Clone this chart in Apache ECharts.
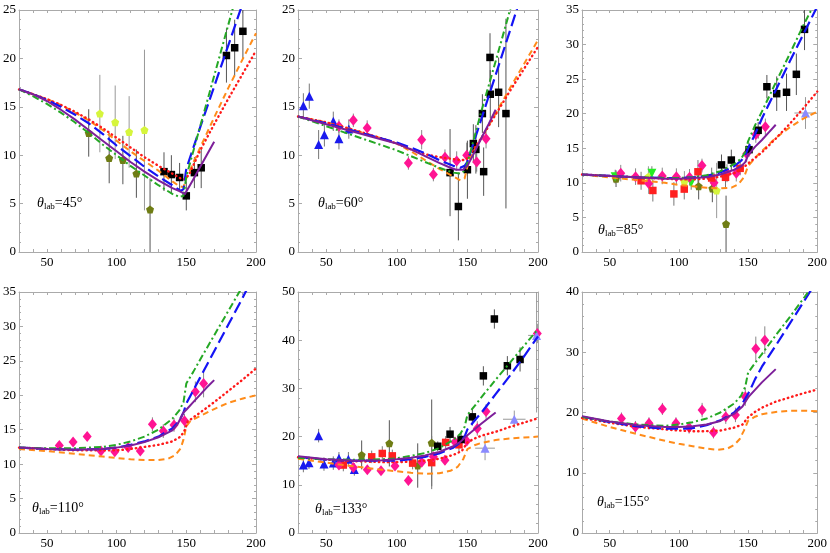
<!DOCTYPE html>
<html><head><meta charset="utf-8">
<script src="https://cdn.jsdelivr.net/npm/echarts@6/dist/echarts.min.js"></script>
<style>html,body{margin:0;padding:0;background:#fff}#c{width:830px;height:553px}</style>
</head><body><div id="c"></div>
<script>
// ---------- tick labels ----------
const xTickLabels = [50, 100, 150, 200];
const panelAngles = ['45°', '60°', '85°', '110°', '133°', '155°'];
const yMaxes = [25, 25, 35, 35, 50, 40];
const ySteps = [5, 5, 5, 5, 10, 10];

// ---------- panel 1 (45°) ----------
const c1Green = [[30,16.8],[40,16.1],[50,15.3],[60,14.4],[70,13.4],[80,12.3],[90,11.1],[100,10.0],[110,8.9],[120,7.9],[130,6.9],[140,6.0],[145,5.7],[148,5.8],[150,7.8],[160,13.0],[170,18.2],[180,23.4],[184,25.5]];
const c1Blue = [[30,16.8],[40,16.3],[50,15.7],[60,15.0],[70,14.2],[80,13.3],[90,12.2],[100,11.0],[110,9.9],[120,8.8],[130,7.8],[140,6.9],[146,6.3],[148,6.5],[150,8.6],[160,12.9],[170,17.1],[180,21.3],[190,25.5]];
const c1Orange = [[30,16.8],[40,16.3],[50,15.8],[60,15.2],[70,14.4],[80,13.6],[90,12.6],[100,11.5],[110,10.4],[120,9.4],[130,8.4],[140,7.3],[145,6.8],[148,6.7],[150,7.6],[160,10.8],[170,13.9],[180,16.9],[190,19.8],[200,22.6]];
const c1Red = [[30,16.8],[40,16.3],[50,15.8],[60,15.2],[70,14.5],[80,13.7],[90,12.8],[100,11.8],[110,10.8],[120,9.8],[130,8.9],[140,8.1],[146,7.6],[149,7.5],[152,8.0],[160,10.5],[170,13.2],[180,15.8],[190,18.3],[200,20.8]];
const c1Purple = [[30,16.8],[40,16.3],[50,15.6],[60,14.7],[70,13.7],[80,12.6],[90,11.5],[100,10.4],[110,9.3],[120,8.3],[130,7.4],[140,6.6],[145,6.3],[149,6.0],[155,7.5],[160,8.8],[165,10.1],[170,11.4]];
const p1Olive = [[80,12.3,2.45],[94.7,9.7,2.6],[104.5,9.5,2.5],[114.2,8.1,2.5],[124,4.4,4.4,3.2]];
const p1Yellow = [[88,14.3,4],[99,13.4,3.8],[109,12.4,3.7],[120,12.6,8.3]];
const p1Black = [[134,8.3,2],[139.3,8.0,2],[145.2,7.7,1.5],[150,5.8,1.5],[155.8,8.2,1.6],[160.7,8.7,2.1],[178.8,20.3,2.8],[184.7,21.1,2.9],[190.6,22.8,2.8]];

// ---------- panel 2 (60°) ----------
const c2Green = [[30,14.0],[50,13.0],[70,12.0],[90,11.0],[100,10.5],[110,9.9],[120,9.3],[130,8.7],[140,8.2],[145,8.1],[148,8.4],[150,9.2],[160,14.6],[170,19.7],[180,24.9],[182,26]];
const c2Blue = [[30,14.0],[50,13.3],[70,12.5],[90,11.7],[100,11.3],[110,10.8],[120,10.2],[130,9.5],[140,8.9],[145,8.7],[148,8.9],[150,9.3],[160,13.8],[170,18.3],[180,22.8],[186,25.5]];
const c2Orange = [[30,14.0],[50,13.4],[70,12.6],[90,11.7],[100,11.2],[110,10.4],[120,9.5],[130,8.6],[140,7.8],[145,7.4],[148,7.6],[150,8.8],[152,9.8],[160,11.8],[170,14.3],[180,16.9],[190,19.4],[200,21.9]];
const c2Red = [[30,14.0],[50,13.4],[70,12.6],[90,11.7],[100,11.2],[110,10.6],[120,10.1],[130,9.8],[140,9.6],[145,9.5],[148,9.5],[150,9.7],[160,11.8],[170,14.2],[180,16.6],[190,18.9],[200,21.2]];
const c2Purple = [[30,14.0],[50,13.2],[70,12.4],[90,11.6],[100,11.2],[110,10.6],[120,9.9],[130,9.2],[138,8.7],[142,8.5],[147,8.5],[150,8.9],[155,10.3],[160,11.8],[165,13.2],[170,14.7]];
const p2Tri = [[33.8,15.1,1.3],[38,16.1,1.3],[44.6,11.1,1.5],[48.7,12.1,1.2],[55,13.5,1.0],[59,11.7,1.1],[66,12.7,1.0]];
const p2Pink = [[59,13.0,0.7],[69.2,13.6,0.7],[79,12.8,0.8],[108.2,9.2,0.7],[117.6,11.6,1.0],[125.9,8.0,0.7],[134.1,9.8,0.8],[142.4,9.4,1.0],[149.5,10.0,1.3],[156.6,9.3,1.0],[163.2,11.7,1.0]];
const p2Black = [[137.7,8.2,4.5],[143.6,4.7,3.5],[150,8.5,3],[154.2,11.2,2],[156,10.6,2.5],[160.6,14.3,2],[161.5,8.3,2.5],[166,20.1,2.5],[166.2,16.3,2.5],[172.1,16.5,3.6],[177.3,14.3,9.8]];

// ---------- panel 3 (85°) ----------
const c3Green = [[30,11.2],[50,11.0],[70,10.8],[90,10.7],[100,10.7],[110,10.8],[120,11.1],[130,11.7],[140,12.7],[145,13.5],[148,14.5],[150,16.0],[155,18.3],[160,20.3],[170,24.5],[180,28.6],[190,32.8],[197,35.5]];
const c3Blue = [[30,11.2],[50,11.0],[70,10.8],[90,10.7],[100,10.7],[110,10.8],[120,11.0],[130,11.5],[140,12.4],[145,13.2],[148,14.0],[150,15.0],[155,17.0],[160,19.3],[170,23.4],[180,27.5],[190,31.5],[200,35.5]];
const c3Orange = [[30,11.2],[50,10.8],[70,10.4],[90,10.0],[100,9.7],[110,9.5],[120,9.3],[130,9.2],[138,9.3],[143,9.8],[147,10.8],[150,12.4],[155,13.6],[160,14.6],[170,16.5],[180,18.0],[190,19.3],[200,20.3]];
const c3Red = [[30,11.2],[50,11.0],[70,10.8],[90,10.6],[100,10.5],[110,10.5],[120,10.6],[130,10.9],[140,11.4],[145,11.9],[150,12.8],[155,13.6],[160,14.4],[170,16.4],[180,18.5],[190,20.8],[200,23.2]];
const c3Purple = [[30,11.2],[50,11.0],[70,10.8],[90,10.6],[100,10.6],[110,10.7],[120,10.8],[130,11.2],[140,11.9],[145,12.4],[148,13.0],[150,14.0],[155,15.2],[160,16.2],[165,17.3],[170,18.4]];
const p3Olive = [[54.6,10.6,1.2],[114.3,9.5,1.9],[124.2,9.2,2],[134.1,4.05,4.1]];
const p3Yellow = [[78,10.9,1.5],[104,10.2,1.5],[127.3,8.9,4]];
const p3Green = [[54,10.9,1],[80.5,11.4,1],[108.9,10.0,1]];
const p3Pink = [[58,11.4,1.2],[68.7,10.9,1.2],[78.2,9.9,1.5],[88,11.0,1.2],[98.2,10.9,1.2],[107.7,10.8,1.2],[116.7,12.5,1],[125.4,10.0,1.5],[134.8,11.4,1.3],[141.5,11.4,1.2],[149,14.2,1.2],[155.6,17.0,1.2],[162.5,18.1,1.2]];
const p3Red = [[72.7,10.3,1.3],[81.2,8.9,1.6],[96.4,8.4,1.7],[103.9,9.1,1.5],[113.8,11.6,1.7],[123.7,10.7,1.5],[133.7,10.8,1.5],[144.3,12.1,1]];
const p3Black = [[130.8,12.6,1.5],[137.9,13.3,1.5],[150.7,14.8,1],[157.3,17.6,1.2],[163.6,23.9,1.7],[170.7,22.9,2.5],[177.8,23.1,2.7],[184.9,25.7,3],[190.8,32.2,3]];
const p3LTri = [[191.5,20.1,2.3,2.3,8]];

// ---------- panel 4 (110°) ----------
const c4Green = [[30,12.4],[50,12.3],[70,12.3],[90,12.5],[100,12.8],[110,13.3],[120,14.0],[130,15.0],[140,16.6],[145,17.8],[148,19.0],[150,21.7],[155,23.4],[160,25.2],[170,28.7],[180,32.2],[190,35.7]];
const c4Blue = [[30,12.4],[50,12.2],[70,12.1],[90,12.2],[100,12.4],[110,12.8],[120,13.3],[130,14.0],[140,15.2],[145,16.3],[148,17.5],[150,18.8],[155,20.7],[160,22.6],[170,26.4],[180,30.2],[190,34.0],[194,35.6]];
const c4Orange = [[30,12.2],[50,11.9],[70,11.5],[90,11.1],[100,10.9],[110,10.7],[120,10.6],[130,10.6],[137,10.8],[142,11.3],[146,12.3],[148,13.6],[150,15.5],[153,16.3],[160,17.0],[170,18.0],[180,18.9],[190,19.5],[200,20.0]];
const c4Red = [[30,12.4],[50,12.2],[70,12.0],[90,12.0],[100,12.0],[110,12.2],[120,12.5],[130,12.8],[140,13.3],[146,14.0],[149,15.0],[151,16.2],[160,17.5],[170,19.0],[180,20.6],[190,22.2],[200,23.9]];
const c4Purple = [[30,12.4],[50,12.2],[70,12.1],[90,12.2],[100,12.4],[110,12.7],[120,13.2],[130,13.9],[140,14.9],[144,15.9],[148,17.5],[150,17.9],[155,19.0],[160,20.1],[165,21.2],[170,22.2]];
const p4Pink = [[58.9,12.7,0.5],[68.8,13.2,0.5],[78.9,14.0,0.6],[88.8,11.9,0.6],[98.7,11.8,0.6],[108.3,12.4,0.6],[117,11.9,0.6],[125.7,15.8,1],[133.5,14.8,1],[141.2,15.7,1],[148.7,16.3,1],[156.5,20.5,1.5],[162.4,21.7,2]];

// ---------- panel 5 (133°) ----------
const c5Green = [[30,15.6],[50,15.3],[70,15.2],[90,15.3],[100,15.5],[110,16.0],[120,16.6],[130,17.6],[140,19.3],[145,20.6],[148,22.0],[150,24.5],[155,26.3],[160,28.2],[170,31.8],[180,35.3],[190,38.8],[200,42.3]];
const c5Blue = [[30,15.8],[50,15.2],[70,15.0],[90,15.0],[100,15.0],[110,15.3],[120,15.8],[130,16.5],[140,17.7],[145,18.8],[148,20.0],[150,21.5],[155,23.3],[160,25.0],[170,28.8],[180,32.6],[190,36.6],[200,40.8]];
const c5Orange = [[30,15.4],[50,14.6],[70,13.8],[90,13.1],[100,12.8],[110,12.5],[120,12.3],[130,12.4],[138,12.9],[143,13.7],[147,15.3],[150,17.4],[155,18.2],[160,18.7],[170,19.3],[180,19.6],[190,19.8],[200,20.0]];
const c5Red = [[30,15.7],[50,15.2],[70,14.9],[90,14.7],[100,14.7],[110,14.8],[120,15.0],[130,15.4],[140,16.2],[146,17.0],[150,18.8],[155,19.6],[160,20.2],[170,21.0],[180,22.0],[190,22.9],[200,23.8]];
const c5Purple = [[30,15.9],[50,15.3],[70,15.0],[90,15.1],[100,15.3],[110,15.6],[120,16.1],[130,16.8],[140,18.0],[145,18.9],[150,20.3],[160,22.7],[170,25.0]];
const p5Tri = [[33.8,14.1,1.5],[37.8,14.6,1.3],[44.6,20.2,1.4],[48.4,14.3,1.4],[55,14.5,1.4],[59,15.5,1.3],[65.7,15.3,1.5],[69.9,13.2,1.3]];
const p5Olive = [[75.1,16.2,3],[94.7,18.6,4.8],[114.8,14.0,4.6],[124.7,18.7,9]];
const p5Red = [[62.1,14.1,1.3],[82.2,15.8,1.3],[89.7,16.5,1.5],[96.8,16.0,1.3],[111.2,14.5,1.3],[124.7,14.6,5.5],[134.6,18.8,1.3],[144,18.3,1.5]];
const p5Pink = [[59,14.1,0.8],[69.2,13.6,0.8],[79.1,13.1,0.8],[88.8,12.9,0.8],[98.7,13.9,0.8],[108.2,10.9,1],[117.6,14.7,1],[125.9,15.8,1],[134.1,15.1,1],[141.2,18.9,1],[149.5,19.1,1],[157,21.7,1.5],[163.2,25.2,1.5],[199.5,41.4,2]];
const p5Black = [[129,18.0,1],[137.7,20.5,1.5],[145.5,19.4,1.5],[153.5,24.1,1.8],[161.3,32.6,2],[169.1,44.4,2],[178.3,34.7,2],[187.3,36.0,2.5]];
const p5LTri = [[162.5,17.6,2.5,2.5,7],[183.2,23.6,1.8,1.8,8],[199,41,16,16,6]];

// ---------- panel 6 (155°) ----------
const c6Green = [[30,19.3],[50,18.5],[70,18.0],[90,17.8],[100,18.0],[110,18.4],[120,19.0],[130,20.0],[140,21.5],[145,22.8],[148,24.3],[150,26.6],[155,28.2],[160,29.7],[170,32.8],[180,35.8],[190,38.9],[195,40.5]];
const c6Blue = [[30,19.3],[50,18.4],[70,17.7],[90,17.3],[100,17.3],[110,17.4],[120,17.9],[130,18.7],[140,20.0],[145,21.2],[148,22.3],[151,23.5],[155,25.5],[160,27.6],[170,31.1],[180,34.7],[190,38.3],[196,40.5]];
const c6Orange = [[30,19.0],[50,17.6],[70,16.4],[90,15.3],[100,14.8],[110,14.4],[120,14.0],[128,13.8],[135,14.0],[140,14.6],[144,15.6],[147,17.0],[150,18.6],[155,19.3],[160,19.7],[170,20.1],[180,20.3],[190,20.3],[200,20.2]];
const c6Red = [[30,19.1],[50,18.3],[70,17.6],[90,17.2],[100,17.0],[110,16.9],[120,16.9],[130,17.0],[140,17.5],[146,18.0],[150,19.2],[155,20.1],[160,20.8],[170,21.8],[180,22.5],[190,23.2],[200,23.8]];
const c6Purple = [[30,19.4],[50,18.5],[70,17.9],[90,17.6],[100,17.6],[110,17.7],[120,18.0],[130,18.6],[140,19.8],[146,21.0],[150,22.5],[160,25.0],[170,27.2]];
const p6Pink = [[58.5,19.0,1],[68.6,17.6,1],[78.4,18.2,1],[88.1,20.6,1],[97.9,18.2,1],[107.4,17.5,1],[116.8,20.4,1.2],[125,16.7,1],[133.9,19.3,1.2],[140.9,19.6,1.2],[148,22.6,1.5],[155.6,30.6,2],[162.1,32,2.3]];

// ---------- assembly ----------
const panels = [
  {curves:{green:c1Green, blue:c1Blue, orange:c1Orange, red:c1Red, purple:c1Purple}, points:[['olive',p1Olive],['yellow',p1Yellow],['black',p1Black]]},
  {curves:{green:c2Green, blue:c2Blue, orange:c2Orange, red:c2Red, purple:c2Purple}, points:[['tri',p2Tri],['pink',p2Pink],['black',p2Black]]},
  {curves:{green:c3Green, blue:c3Blue, orange:c3Orange, red:c3Red, purple:c3Purple}, points:[['olive',p3Olive],['yellow',p3Yellow],['gtri',p3Green],['pink',p3Pink],['red',p3Red],['black',p3Black],['ltri',p3LTri]]},
  {curves:{green:c4Green, blue:c4Blue, orange:c4Orange, red:c4Red, purple:c4Purple}, points:[['pink',p4Pink]]},
  {curves:{green:c5Green, blue:c5Blue, orange:c5Orange, red:c5Red, purple:c5Purple}, points:[['tri',p5Tri],['olive',p5Olive],['red',p5Red],['pink',p5Pink],['black',p5Black],['ltri',p5LTri]]},
  {curves:{green:c6Green, blue:c6Blue, orange:c6Orange, red:c6Red, purple:c6Purple}, points:[['pink',p6Pink]]}
];

const boxes = [[15,10,241,242],[298,10,240,242],[582,10,241,242],[15,292,241,241],[298,292,240,241],[582,292,241,241]];
const labelPos = [[37,196],[318,196],[598,223],[32,501],[315,502],[597,495]];

const pentagon = 'path://M0,-10L9.5,-3.1L5.9,8.1L-5.9,8.1L-9.5,-3.1Z';
const curveStyle = {
  green:{color:'#25a825', type:[7,3,2,3], width:2},
  blue:{color:'#1414f5', type:[12,5], width:2.2},
  orange:{color:'#ff8c1a', type:[6,4], width:2},
  red:{color:'#ff1a1a', type:[0.5,4], width:2.4, cap:'round'},
  purple:{color:'#7d1f9a', type:'solid', width:2}
};
const markerStyle = {
  black:{symbol:'rect', size:7.5, color:'#000000', bar:'#555'},
  pink:{symbol:'diamond', size:[9,11], color:'#ff1493', bar:'#888'},
  tri:{symbol:'triangle', size:9, color:'#1a1aee', bar:'#777'},
  olive:{symbol:pentagon, size:8, color:'#6f7d14', bar:'#555'},
  yellow:{symbol:pentagon, size:8, color:'#d6f53c', bar:'#999'},
  red:{symbol:'rect', size:7.5, color:'#ff2020', bar:'#777'},
  gtri:{symbol:'triangle', rotate:180, size:9, color:'#22ee22', bar:'#777'},
  ltri:{symbol:'triangle', size:9, color:'#8a8aff', bar:'#999'}
};

const frame = '#aaaaaa';
const serif = '"Liberation Serif", "DejaVu Serif", serif';
const grid = [], xAxis = [], yAxis = [], series = [], graphic = [];

panels.forEach((p, i) => {
  const b = boxes[i];
  grid.push({left:b[0], top:b[1], width:b[2], height:b[3], containLabel:false, show:false});
  const xBase = {gridIndex:i, type:'value', min:30, max:200, interval:10, splitLine:{show:false},
    axisLine:{show:true, onZero:false, lineStyle:{color:frame, width:1}},
    axisTick:{show:true, inside:true, length:3, lineStyle:{color:frame}}};
  xAxis.push(Object.assign({}, xBase, {position:'bottom',
    axisLabel:{show:true, customValues:xTickLabels, color:'#000', fontFamily:serif, fontSize:13, margin:4}}));
  xAxis.push(Object.assign({}, xBase, {position:'top', axisLabel:{show:false}}));
  const yBase = {gridIndex:i, type:'value', min:0, max:yMaxes[i], interval:ySteps[i], splitLine:{show:false},
    axisLine:{show:true, onZero:false, lineStyle:{color:frame, width:1}},
    axisTick:{show:true, inside:true, length:4, lineStyle:{color:frame}},
    minorTick:{show:true, splitNumber:5, length:2, lineStyle:{color:frame}}};
  yAxis.push(Object.assign({}, yBase, {position:'left',
    axisLabel:{show:true, color:'#000', fontFamily:serif, fontSize:13, margin:3}}));
  yAxis.push(Object.assign({}, yBase, {position:'right', axisLabel:{show:false}}));

  const xi = 2*i, yi = 2*i;
  // error bars
  p.points.forEach(([kind, pts]) => {
    const m = markerStyle[kind];
    series.push({type:'custom', xAxisIndex:xi, yAxisIndex:yi, clip:true, silent:true, z:2,
      data: pts.map(d => {
        const lo = d[1] - d[2];
        const hi = d[1] + (d.length >= 4 ? d[3] : d[2]);
        return [d[0], d[1], lo, hi, d[4] || 0];
      }),
      encode:{x:0, y:1},
      renderItem:(params, api) => {
        const x = api.value(0), y = api.value(1), lo = api.value(2), hi = api.value(3), h = api.value(4);
        const a = api.coord([x, lo]), c = api.coord([x, hi]);
        const ch = [{type:'line', shape:{x1:a[0], y1:a[1], x2:c[0], y2:c[1]}, style:{stroke:m.bar, lineWidth:1}}];
        if (h > 0) {
          const l = api.coord([x - h, y]), r = api.coord([x + h, y]);
          ch.push({type:'line', shape:{x1:l[0], y1:l[1], x2:r[0], y2:r[1]}, style:{stroke:m.bar, lineWidth:1}});
        }
        return {type:'group', children:ch};
      }});
  });
  // markers
  p.points.forEach(([kind, pts]) => {
    const m = markerStyle[kind];
    series.push({type:'scatter', xAxisIndex:xi, yAxisIndex:yi, z:3, silent:true,
      symbol:m.symbol, symbolSize:m.size, symbolRotate:m.rotate || 0,
      itemStyle:{color:m.color, opacity:1},
      data: pts.map(d => [d[0], d[1]])});
  });
  // curves (drawn on top)
  ['orange','red','blue','green','purple'].forEach(k => {
    const s = curveStyle[k];
    series.push({type:'line', xAxisIndex:xi, yAxisIndex:yi, z:4, silent:true,
      data:p.curves[k], symbol:'none', showSymbol:false, smooth:false, clip:true,
      lineStyle:{color:s.color, width:s.width, type:s.type, cap:s.cap || 'butt', join:'round'}});
  });
  // angle label
  graphic.push({type:'text', left:labelPos[i][0], top:labelPos[i][1], z:10,
    style:{text:'{a|θ}{b|lab}{c|=' + panelAngles[i] + '}', fill:'#000',
      rich:{a:{fontStyle:'italic', fontFamily:serif, fontSize:14, lineHeight:16},
            b:{fontFamily:serif, fontSize:9, verticalAlign:'bottom', lineHeight:12, padding:[6,0,0,0]},
            c:{fontFamily:serif, fontSize:14, lineHeight:16}}}});
});

const chart = echarts.init(document.getElementById('c'), null, {renderer:'canvas'});
chart.setOption({animation:false, backgroundColor:'#fff', grid, xAxis, yAxis, series, graphic});
</script></body></html>
